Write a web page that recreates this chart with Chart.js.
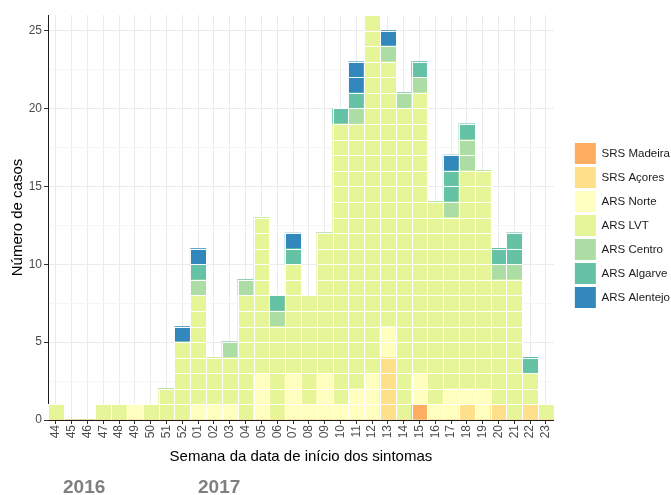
<!DOCTYPE html>
<html><head><meta charset="utf-8">
<script src="https://cdn.jsdelivr.net/npm/chart.js@4"></script>
<style>
html,body{margin:0;padding:0;background:#fff}
#wrap{position:relative;width:671px;height:495px}
.yr{position:absolute;top:476px;font:bold 19px "Liberation Sans",Arial,sans-serif;color:#7f7f7f}
</style></head><body>
<div id="wrap"><canvas id="c" width="671" height="495"></canvas>
<div class="yr" style="left:63px">2016</div><div class="yr" style="left:198px">2017</div></div>
<script>
const weeks = ['44','45','46','47','48','49','50','51','52','01','02','03','04','05','06','07','08','09','10','11','12','13','14','15','16','17','18','19','20','21','22','23'];
const srsMadeira = [0,0,0,0,0,0,0,0,0, 0,0,0,0,0,0,0,0,0,0,0,0,0,0,1,0,0,0,0,0,0,0,0];
const srsAcores   = [0,0,0,0,0,0,0,0,0, 0,0,0,0,0,0,0,0,0,0,0,0,4,0,0,0,0,1,0,1,0,1,0];
const arsNorte    = [0,0,0,0,0,1,0,0,0, 1,1,1,0,3,0,3,1,3,1,2,3,2,0,2,1,2,1,2,0,0,0,0];
const arsLVT      = [1,0,0,1,1,0,1,2,5, 7,3,3,8,10,6,7,7,9,18,17,23,17,20,18,13,11,14,14,8,9,2,1];
const arsCentro   = [0,0,0,0,0,0,0,0,0, 1,0,1,1,0,1,0,0,0,0,1,0,1,1,1,0,1,2,0,1,1,0,0];
const arsAlgarve  = [0,0,0,0,0,0,0,0,0, 1,0,0,0,0,1,1,0,0,1,1,0,0,0,1,0,2,1,0,1,2,1,0];
const arsAlentejo = [0,0,0,0,0,0,0,0,1, 1,0,0,0,0,0,1,0,0,0,2,0,1,0,0,0,1,0,0,0,0,0,0];
const yTicks = [0,5,10,15,20,25];

const series = [
  ['SRS Madeira', srsMadeira, '#fdae61'],
  ['SRS Açores', srsAcores, '#fee08b'],
  ['ARS Norte', arsNorte, '#ffffbf'],
  ['ARS LVT', arsLVT, '#e6f598'],
  ['ARS Centro', arsCentro, '#abdda4'],
  ['ARS Algarve', arsAlgarve, '#66c2a5'],
  ['ARS Alentejo', arsAlentejo, '#3288bd']
];

const FONT = '"Liberation Sans", Arial, sans-serif';

const cellLines = {
  id: 'cellLines',
  afterDatasetsDraw(chart) {
    const ctx = chart.ctx, ys = chart.scales.y;
    const meta = chart.getDatasetMeta(0);
    ctx.save();
    ctx.strokeStyle = 'rgba(255,255,255,0.95)';
    ctx.lineWidth = 1;
    weeks.forEach((w, i) => {
      let total = 0;
      chart.data.datasets.forEach(d => total += d.data[i]);
      if (!total) return;
      const el = meta.data[i];
      const x0 = el.x - el.width / 2, x1 = el.x + el.width / 2;
      const yb = ys.getPixelForValue(0), yt = ys.getPixelForValue(total);
      ctx.beginPath();
      for (let k = 1; k <= total; k++) {
        const y = Math.round(ys.getPixelForValue(k)) + 0.5;
        ctx.moveTo(x0, y); ctx.lineTo(x1, y);
      }
      ctx.moveTo(Math.round(x0) + 0.5, yb); ctx.lineTo(Math.round(x0) + 0.5, yt);
      ctx.moveTo(Math.round(x1) + 0.5, yb); ctx.lineTo(Math.round(x1) + 0.5, yt);
      ctx.stroke();
    });
    ctx.restore();
  }
};

// move the legend block (ggplot-style spacing from the panel)
const legendPlace = {
  id: 'legendPlace',
  afterInit(chart) {
    const lg = chart.legend;
    const fit = lg.fit.bind(lg);
    lg.fit = function () { fit(); this.width += 7; };
  },
  afterLayout(chart) {
    const lg = chart.legend;
    lg.left += 18; lg.right += 18;
    lg.top -= 16; lg.bottom -= 16;
  }
};

new Chart(document.getElementById('c'), {
  type: 'bar',
  data: {
    labels: weeks,
    datasets: series.map(([label, data, color]) => ({
      label, data, backgroundColor: color, borderWidth: 0,
      barPercentage: 1, categoryPercentage: 1
    }))
  },
  plugins: [cellLines, legendPlace],
  options: {
    responsive: false,
    animation: false,
    layout: { padding: { top: 15, bottom: 27, left: 0, right: 2 } },
    plugins: {
      tooltip: { enabled: false },
      legend: {
        position: 'right',
        labels: { boxWidth: 21, boxHeight: 21, padding: 3, color: '#1a1a1a', font: { family: FONT, size: 11.5 } }
      }
    },
    scales: {
      x: {
        stacked: true,
        afterFit(s) { s.height = 48; },
        grid: { offset: false, color: '#ebebeb', tickColor: '#333', tickLength: 4, drawOnChartArea: true },
        border: { color: '#1a1a1a', width: 1 },
        ticks: { minRotation: 90, maxRotation: 90, autoSkip: false, color: '#4d4d4d', font: { family: FONT, size: 12 }, padding: 1 },
        title: { display: true, text: 'Semana da data de início dos sintomas', color: '#000', font: { family: FONT, size: 15 }, padding: { top: 2, bottom: 2 } }
      },
      y: {
        stacked: true,
        min: 0, max: 26,
        afterFit(s) { s.width = 48; },
        afterBuildTicks(s) {
          const t = [];
          for (let v = 0; v <= 25; v += 2.5) t.push({ value: v });
          s.ticks = t;
        },
        grid: {
          color: c => (c.tick && c.tick.value % 5 === 0) ? '#ebebeb' : '#f6f6f6',
          tickColor: c => (c.tick && c.tick.value % 5 === 0) ? '#333' : 'rgba(0,0,0,0)',
          tickLength: 4
        },
        border: { color: '#1a1a1a', width: 1 },
        ticks: {
          color: '#4d4d4d', font: { family: FONT, size: 12 }, padding: 2,
          callback: v => yTicks.includes(v) ? String(v) : ''
        },
        title: { display: true, text: 'Número de casos', color: '#000', font: { family: FONT, size: 15 }, padding: { top: 9, bottom: 4 } }
      }
    }
  }
});
</script>
</body></html>
